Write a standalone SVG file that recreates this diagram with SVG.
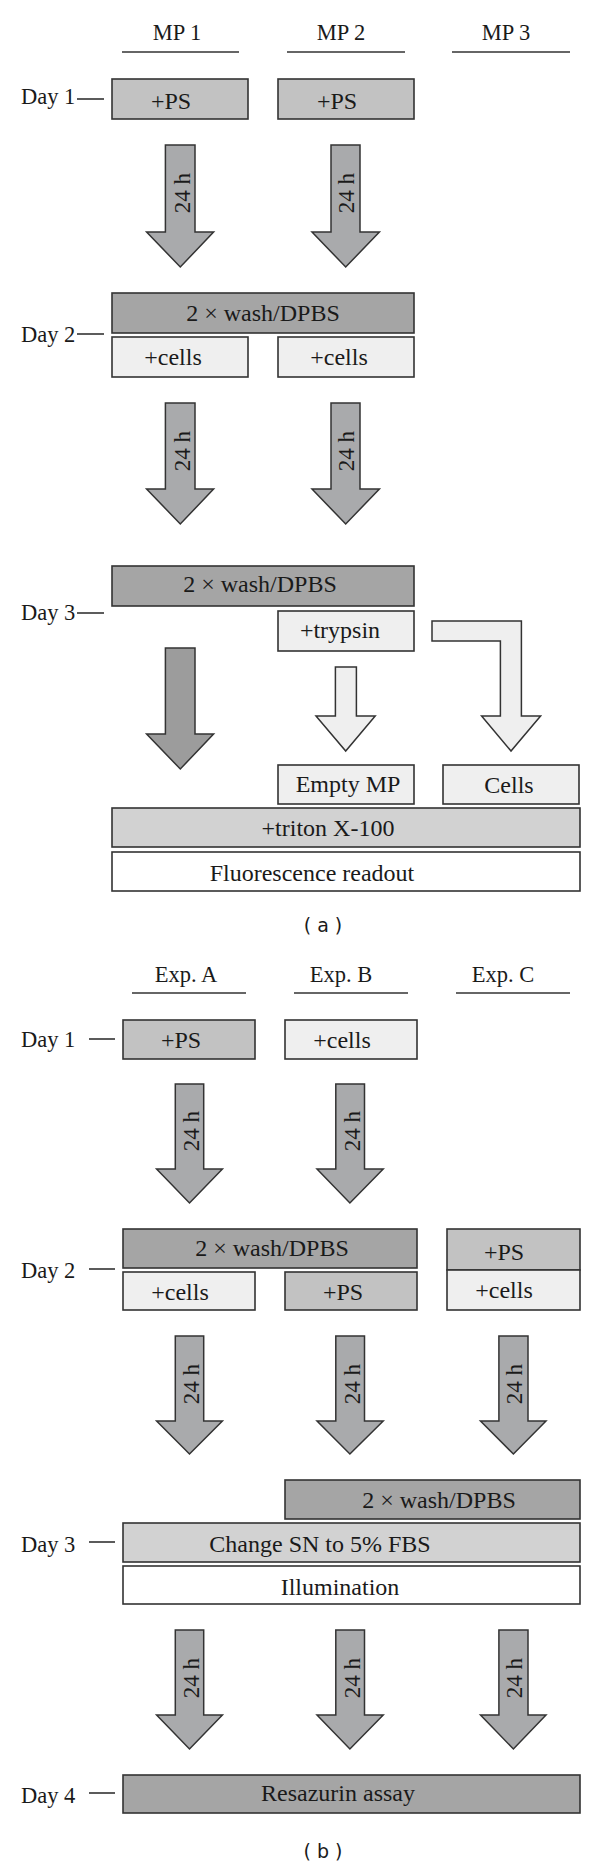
<svg xmlns="http://www.w3.org/2000/svg" width="600" height="1864" viewBox="0 0 600 1864">
<style>
.t{font-family:"Liberation Serif","Times New Roman",serif;font-size:24px;fill:#1a1a1a;text-anchor:middle}
.h{font-family:"Liberation Serif","Times New Roman",serif;font-size:22.5px;fill:#1a1a1a;text-anchor:middle}
.r{font-family:"Liberation Serif","Times New Roman",serif;font-size:23px;fill:#1a1a1a;text-anchor:middle}
.l{font-family:"Liberation Serif","Times New Roman",serif;font-size:22.5px;fill:#1a1a1a}
.cap{font-family:"DejaVu Sans",Verdana,sans-serif;font-size:19px;fill:#1a1a1a;text-anchor:middle}
.b{stroke:#333;stroke-width:1.6}
.ps{fill:#c2c2c2}
.wash{fill:#a5a5a5}
.cells{fill:#efefef}
.trit{fill:#d2d2d2}
.white{fill:#fff}
.arr{fill:#a9aaac;stroke:#333;stroke-width:1.5}
.darr{fill:#9c9c9c;stroke:#333;stroke-width:1.5}
.larr{fill:#efefef;stroke:#333;stroke-width:1.5}
.ln{stroke:#333;stroke-width:1.6}
</style>
<rect width="600" height="1864" fill="#fff"/>

<!-- Part (a) headers -->
<g id="hdr-a">
<text class="h" x="177" y="40">MP 1</text>
<text class="h" x="341" y="40">MP 2</text>
<text class="h" x="506" y="40">MP 3</text>
<line class="ln" x1="122" y1="52" x2="239" y2="52"/>
<line class="ln" x1="287" y1="52" x2="405" y2="52"/>
<line class="ln" x1="452" y1="52" x2="570" y2="52"/>
</g>
<g id="days-a">
<text class="l" x="21" y="104">Day 1</text><line class="ln" x1="77" y1="99" x2="104" y2="99"/>
<text class="l" x="21" y="342">Day 2</text><line class="ln" x1="77" y1="334" x2="104" y2="334"/>
<text class="l" x="21" y="620">Day 3</text><line class="ln" x1="77" y1="613" x2="104" y2="613"/>
</g>

<g id="a-ps1"><rect class="b ps" x="112" y="79" width="136" height="40"/><text class="t" x="171" y="109">+PS</text></g>
<g id="a-ps2"><rect class="b ps" x="278" y="79" width="136" height="40"/><text class="t" x="337" y="109">+PS</text></g>
<g id="a-wash1"><rect class="b wash" x="112" y="293" width="302" height="40"/><text class="t" x="263" y="321">2 × wash/DPBS</text></g>
<g id="a-cells1"><rect class="b cells" x="112" y="337" width="136" height="40"/><text class="t" x="173" y="365">+cells</text></g>
<g id="a-cells2"><rect class="b cells" x="278" y="337" width="136" height="40"/><text class="t" x="339" y="365">+cells</text></g>
<g id="a-wash2"><rect class="b wash" x="112" y="566" width="302" height="40"/><text class="t" x="260" y="592">2 × wash/DPBS</text></g>
<g id="a-trypsin"><rect class="b cells" x="278" y="611" width="136" height="40"/><text class="t" x="340" y="638">+trypsin</text></g>
<g id="a-empty"><rect class="b cells" x="278" y="765" width="136" height="39"/><text class="t" x="348" y="792">Empty MP</text></g>
<g id="a-cellsout"><rect class="b cells" x="443" y="765" width="136" height="39"/><text class="t" x="509" y="793">Cells</text></g>
<g id="a-triton"><rect class="b trit" x="112" y="808" width="468" height="39"/><text class="t" x="328" y="836">+triton X-100</text></g>
<g id="a-fluor"><rect class="b white" x="112" y="852" width="468" height="39"/><text class="t" x="312" y="881">Fluorescence readout</text></g>
<text class="cap" x="323" y="932">( a )</text>

<!-- Part (b) -->
<g id="hdr-b">
<text class="h" x="186" y="982">Exp. A</text>
<text class="h" x="341" y="982">Exp. B</text>
<text class="h" x="503" y="982">Exp. C</text>
<line class="ln" x1="132" y1="993" x2="246" y2="993"/>
<line class="ln" x1="294" y1="993" x2="408" y2="993"/>
<line class="ln" x1="456" y1="993" x2="570" y2="993"/>
</g>
<g id="days-b">
<text class="l" x="21" y="1047">Day 1</text><line class="ln" x1="89" y1="1039" x2="115" y2="1039"/>
<text class="l" x="21" y="1278">Day 2</text><line class="ln" x1="89" y1="1269" x2="115" y2="1269"/>
<text class="l" x="21" y="1552">Day 3</text><line class="ln" x1="89" y1="1542" x2="115" y2="1542"/>
<text class="l" x="21" y="1803">Day 4</text><line class="ln" x1="89" y1="1793" x2="115" y2="1793"/>
</g>

<g id="b-ps1"><rect class="b ps" x="123" y="1020" width="132" height="39"/><text class="t" x="181" y="1048">+PS</text></g>
<g id="b-cells1"><rect class="b cells" x="285" y="1020" width="132" height="39"/><text class="t" x="342" y="1048">+cells</text></g>
<g id="b-wash1"><rect class="b wash" x="123" y="1229" width="294" height="39"/><text class="t" x="272" y="1256">2 × wash/DPBS</text></g>
<g id="b-cpS"><rect class="b ps" x="447" y="1229" width="133" height="41"/><text class="t" x="504" y="1260">+PS</text></g>
<g id="b-ccells"><rect class="b cells" x="447" y="1270" width="133" height="40"/><text class="t" x="504" y="1298">+cells</text></g>
<g id="b-cells2"><rect class="b cells" x="123" y="1272" width="132" height="38"/><text class="t" x="180" y="1300">+cells</text></g>
<g id="b-ps2"><rect class="b ps" x="285" y="1272" width="132" height="38"/><text class="t" x="343" y="1300">+PS</text></g>
<g id="b-wash2"><rect class="b wash" x="285" y="1480" width="295" height="39"/><text class="t" x="439" y="1508">2 × wash/DPBS</text></g>
<g id="b-change"><rect class="b trit" x="123" y="1523" width="457" height="39"/><text class="t" x="320" y="1552">Change SN to 5% FBS</text></g>
<g id="b-illum"><rect class="b white" x="123" y="1566" width="457" height="38"/><text class="t" x="340" y="1595">Illumination</text></g>
<g id="b-resaz"><rect class="b wash" x="123" y="1775" width="457" height="38"/><text class="t" x="338" y="1801">Resazurin assay</text></g>
<text class="cap" x="323" y="1858">( b )</text>

<!-- Connectors (block arrows) -->
<g id="connectors">
<path class="arr" d="M165.4,145 H195 V232 H213.6 L180.3,267 L146.6,232 H165.4 Z"/>
<path class="arr" d="M331,145 H360 V232 H379.4 L345.7,267 L312,232 H331 Z"/>
<path class="arr" d="M165.4,403 H195 V489 H213.6 L180.3,524 L146.6,489 H165.4 Z"/>
<path class="arr" d="M331,403 H360 V489 H379.4 L345.7,524 L312,489 H331 Z"/>
<path class="darr" d="M165.4,648 H195 V734 H213.6 L180.3,769 L146.6,734 H165.4 Z"/>
<path class="larr" d="M335.4,667 H356.4 V716 H375.2 L345.7,751 L316,716 H335.4 Z"/>
<path class="larr" d="M432,621 H521.4 V716 H540.6 L511,751 L481.6,716 H500.4 V641 H432 Z"/>

<path class="arr" d="M175.3,1084 H203.7 V1169 H222.4 L189.5,1203 L156.6,1169 H175.3 Z"/>
<path class="arr" d="M335.8,1084 H364.5 V1169 H383.2 L349.9,1203 L317,1169 H335.8 Z"/>
<path class="arr" d="M175.3,1336 H203.7 V1421 H222.4 L189.5,1454 L156.6,1421 H175.3 Z"/>
<path class="arr" d="M335.8,1336 H364.5 V1421 H383.2 L349.9,1454 L317,1421 H335.8 Z"/>
<path class="arr" d="M498.9,1336 H528 V1421 H546 L513.4,1454 L480.5,1421 H498.9 Z"/>
<path class="arr" d="M175.3,1630 H203.7 V1715 H222.4 L189.5,1749 L156.6,1715 H175.3 Z"/>
<path class="arr" d="M335.8,1630 H364.5 V1715 H383.2 L349.9,1749 L317,1715 H335.8 Z"/>
<path class="arr" d="M498.9,1630 H528 V1715 H546 L513.4,1749 L480.5,1715 H498.9 Z"/>

<text class="r" x="189.5" y="193" transform="rotate(-90 189.5 193)">24 h</text>
<text class="r" x="354" y="193" transform="rotate(-90 354 193)">24 h</text>
<text class="r" x="189.5" y="451" transform="rotate(-90 189.5 451)">24 h</text>
<text class="r" x="354" y="451" transform="rotate(-90 354 451)">24 h</text>
<text class="r" x="199" y="1131" transform="rotate(-90 199 1131)">24 h</text>
<text class="r" x="360" y="1131" transform="rotate(-90 360 1131)">24 h</text>
<text class="r" x="199" y="1384" transform="rotate(-90 199 1384)">24 h</text>
<text class="r" x="360" y="1384" transform="rotate(-90 360 1384)">24 h</text>
<text class="r" x="521.5" y="1384" transform="rotate(-90 521.5 1384)">24 h</text>
<text class="r" x="199" y="1678" transform="rotate(-90 199 1678)">24 h</text>
<text class="r" x="360" y="1678" transform="rotate(-90 360 1678)">24 h</text>
<text class="r" x="521.5" y="1678" transform="rotate(-90 521.5 1678)">24 h</text>
</g>
</svg>
